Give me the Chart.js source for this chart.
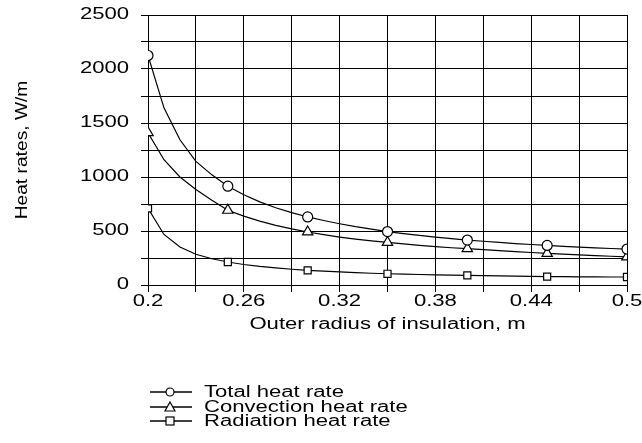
<!DOCTYPE html>
<html>
<head>
<meta charset="utf-8">
<script src="https://cdn.jsdelivr.net/npm/chart.js@4"></script>
<style>
  html, body { margin: 0; padding: 0; background: #fff; }
  #wrap { position: relative; width: 642px; height: 443px; }
  #legend { position: absolute; left: 148px; top: 385px; font-family: "Liberation Sans", Arial, sans-serif; font-size: 16px; color: #000; }
  .item { display: flex; align-items: center; height: 14.5px; white-space: nowrap; }
  .item svg { margin-right: 10px; }
  .item span { display: inline-block; transform: scaleX(1.38); transform-origin: left center; }
</style>
</head>
<body>
<div id="wrap">
  <canvas id="chart" width="642" height="443"></canvas>
  <div id="legend"></div>
</div>
<script>
// outer radius of insulation (m)
const radii = [0.20, 0.21, 0.22, 0.23, 0.24, 0.25, 0.26, 0.27, 0.28, 0.29, 0.30,
  0.31, 0.32, 0.33, 0.34, 0.35, 0.36, 0.37, 0.38, 0.39, 0.40,
  0.41, 0.42, 0.43, 0.44, 0.45, 0.46, 0.47, 0.48, 0.49, 0.50];

// heat rates (W/m)
const totalRate = [2125, 1640, 1345, 1145, 1020, 915, 835, 770, 715, 670, 630,
  597, 567, 540, 517, 495, 476, 459, 443, 429, 416,
  405, 394, 384, 375, 366, 358, 351, 344, 338, 333];
const convectionRate = [1410, 1160, 1000, 885, 785, 692, 638, 592, 552, 519, 491,
  466, 444, 425, 408, 394, 380, 367, 356, 345, 336,
  327, 318, 309, 301, 293, 286, 279, 272, 266, 260];
const radiationRate = [710, 468, 352, 285, 243, 213, 190, 172, 158, 146, 136,
  128, 121, 115, 109, 104, 100, 97, 94, 91, 89,
  87, 85, 83, 80, 78, 77, 76, 75, 74, 74];

const seriesNames = ['Total heat rate', 'Convection heat rate', 'Radiation heat rate'];
const markerStyles = ['circle', 'triangle', 'rect'];

const FONT = '"Liberation Sans", Arial, sans-serif';
const TEXT_STRETCH = 1.38;   // the original's lettering is drawn wide
const ROTATED_STRETCH = 1.2; // the vertical axis title less so

// widen every label the chart writes, around its own anchor point
const wideText = {
  id: 'wideText',
  beforeInit(chart) {
    const ctx = chart.ctx;
    const fill = ctx.fillText.bind(ctx);
    ctx.fillText = (text, x, y) => {
      const rotated = Math.abs(ctx.getTransform().b) > 0.01;
      ctx.save();
      ctx.translate(x, y);
      ctx.scale(rotated ? ROTATED_STRETCH : TEXT_STRETCH, 1);
      fill(text, 0, 0);
      ctx.restore();
    };
  },
};

function makeSet(label, values, style) {
  return {
    label,
    data: radii.map((r, i) => ({ x: r, y: values[i] })),
    borderColor: '#000',
    borderWidth: 1.2,
    backgroundColor: '#fff',
    pointStyle: style,
    pointBorderColor: '#000',
    pointBackgroundColor: '#fff',
    pointBorderWidth: 1.2,
    pointRadius: ctx => (ctx.dataIndex % 5 === 0 ? (style === 'triangle' ? 6 : 5) : 0),
    pointHoverRadius: 0,
    tension: 0,
    fill: false,
  };
}

new Chart(document.getElementById('chart'), {
  type: 'line',
  plugins: [wideText],
  data: {
    datasets: [
      makeSet(seriesNames[0], totalRate, markerStyles[0]),
      makeSet(seriesNames[1], convectionRate, markerStyles[1]),
      makeSet(seriesNames[2], radiationRate, markerStyles[2]),
    ],
  },
  options: {
    responsive: false,
    animation: false,
    events: [],
    layout: { padding: { left: 0, right: 15, top: 15, bottom: 88 } },
    plugins: { legend: { display: false }, tooltip: { enabled: false } },
    scales: {
      x: {
        type: 'linear',
        min: 0.2,
        max: 0.5,
        afterFit: s => { s.height = 70; s.paddingLeft = 0; s.paddingRight = 0; },
        border: { color: '#000', width: 1 },
        grid: { color: '#000', lineWidth: 1, tickLength: 7, tickColor: '#000' },
        ticks: {
          stepSize: 0.03,
          color: '#000',
          padding: 0,
          maxRotation: 0,
          autoSkip: false,
          font: { family: FONT, size: 16 },
          callback: (v, i) => (i % 2 === 0 ? String(Math.round(v * 100) / 100) : ''),
        },
        title: {
          display: true,
          text: 'Outer radius of insulation, m',
          color: '#000',
          font: { family: FONT, size: 16 },
          padding: { top: 0, bottom: 21 },
        },
      },
      y: {
        min: 0,
        max: 2500,
        afterFit: s => { s.width = 148; s.paddingTop = 0; s.paddingBottom = 0; },
        border: { color: '#000', width: 1 },
        grid: { color: '#000', lineWidth: 1, tickLength: 7, tickColor: '#000' },
        ticks: {
          stepSize: 250,
          color: '#000',
          padding: 12,
          autoSkip: false,
          font: { family: FONT, size: 16 },
          callback: v => (v % 500 === 0 ? String(v) : ''),
        },
        title: {
          display: true,
          text: 'Heat rates, W/m',
          color: '#000',
          font: { family: FONT, size: 16 },
          padding: { top: 13, bottom: 0 },
        },
      },
    },
  },
});

// legend drawn as html rows below the plot
const marks = {
  circle: '<circle cx="22" cy="7" r="4" fill="#fff" stroke="#000" stroke-width="1.2"/>',
  triangle: '<polygon points="22,2 27,11 17,11" fill="#fff" stroke="#000" stroke-width="1.2"/>',
  rect: '<rect x="18" y="3" width="8" height="8" fill="#fff" stroke="#000" stroke-width="1.2"/>',
};
document.getElementById('legend').innerHTML = seriesNames.map((name, i) => `
  <div class="item">
    <svg width="46" height="14"><line x1="2" y1="7" x2="44" y2="7" stroke="#000" stroke-width="1.3"/>${marks[markerStyles[i]]}</svg>
    <span>${name}</span>
  </div>
`).join('');
</script>
</body>
</html>
